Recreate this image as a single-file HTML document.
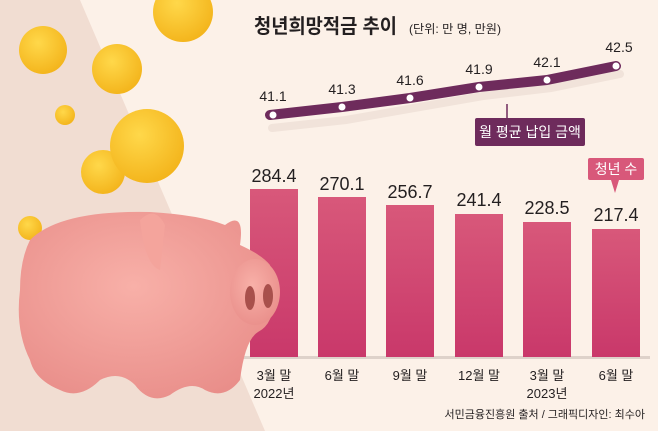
<!DOCTYPE html>
<html><head><meta charset="utf-8"><style>
body{margin:0;width:658px;height:431px;overflow:hidden;background:#fcf1e8;font-family:"Liberation Sans","Noto Sans CJK KR",sans-serif}
</style></head><body>
<svg width="658" height="431" viewBox="0 0 658 431" xmlns="http://www.w3.org/2000/svg" style="position:absolute;left:0;top:0">
<defs>
<linearGradient id="bar" x1="0" y1="0" x2="0" y2="1"><stop offset="0" stop-color="#d8587a"/><stop offset="1" stop-color="#c9386a"/></linearGradient>
<radialGradient id="pig" cx="0.45" cy="0.4" r="0.7"><stop offset="0" stop-color="#f8b0a8"/><stop offset="1" stop-color="#e88c88"/></radialGradient>
<radialGradient id="coin" cx="0.4" cy="0.35" r="0.7"><stop offset="0" stop-color="#ffd84a"/><stop offset="1" stop-color="#f3b31a"/></radialGradient>
</defs>
<rect width="658" height="431" fill="#fcf1e8"/>
<polygon points="0,0 80,0 265,431 0,431" fill="#f1ddd2"/>
<g fill="url(#coin)">
<circle cx="183" cy="12" r="30"/><circle cx="43" cy="50" r="24"/><circle cx="117" cy="69" r="25"/>
<circle cx="65" cy="115" r="10"/><circle cx="103" cy="172" r="22"/><circle cx="147" cy="146" r="37"/>
<circle cx="30" cy="228" r="12"/>
</g>
<text x="254" y="33" font-size="20" font-weight="bold" fill="#231f20" textLength="143" lengthAdjust="spacingAndGlyphs">청년희망적금 추이</text>
<text x="409" y="33" font-size="12" fill="#231f20" textLength="92" lengthAdjust="spacingAndGlyphs">(단위: 만 명, 만원)</text>
<path d="M272,128 L346,120 L414,108 L483,96 L551,88 L620,74" stroke="#e6d6cc" stroke-width="8" fill="none" stroke-linecap="round" opacity="0.5"/>
<path d="M270,115 L342,107 L410,98 L479,87 L547,80 L616,66" stroke="#6e2b5c" stroke-width="10" fill="none" stroke-linecap="round" stroke-linejoin="round"/>
<g fill="#fff"><circle cx="273" cy="115" r="3.5"/><circle cx="342" cy="107" r="3.5"/><circle cx="410" cy="98" r="3.5"/><circle cx="479" cy="87" r="3.5"/><circle cx="547" cy="80" r="3.5"/><circle cx="616" cy="66" r="3.5"/></g>
<g font-size="14" fill="#231f20" text-anchor="middle">
<text x="273" y="101">41.1</text><text x="342" y="94">41.3</text><text x="410" y="85">41.6</text><text x="479" y="74">41.9</text><text x="547" y="67">42.1</text><text x="619" y="52">42.5</text>
</g>
<line x1="507" y1="104" x2="507" y2="120" stroke="#6e2b5c" stroke-width="1.5"/>
<rect x="475" y="118" width="110" height="28" rx="2" fill="#6e2b5c"/>
<text x="530" y="137" font-size="14" fill="#fff" text-anchor="middle">월 평균 납입 금액</text>
<rect x="240" y="356" width="410" height="3" fill="#6a5a55" opacity="0.2"/>
<g fill="url(#bar)">
<rect x="250" y="189" width="48" height="168"/><rect x="318" y="197" width="48" height="160"/><rect x="386" y="205" width="48" height="152"/>
<rect x="455" y="214" width="48" height="143"/><rect x="523" y="222" width="48" height="135"/><rect x="592" y="229" width="48" height="128"/>
</g>
<g font-size="18" fill="#231f20" text-anchor="middle">
<text x="274" y="182">284.4</text><text x="342" y="190">270.1</text><text x="410" y="198">256.7</text><text x="479" y="206">241.4</text><text x="547" y="214">228.5</text><text x="616" y="221">217.4</text>
</g>
<rect x="588" y="158" width="56" height="22" rx="2" fill="#d8587a"/>
<polygon points="611,180 619,180 615,193" fill="#d8587a"/>
<text x="616" y="174" font-size="14" fill="#fff" text-anchor="middle">청년 수</text>
<g font-size="13" fill="#231f20" text-anchor="middle">
<text x="274" y="380">3월 말</text><text x="342" y="380">6월 말</text><text x="410" y="380">9월 말</text><text x="479" y="380">12월 말</text><text x="547" y="380">3월 말</text><text x="616" y="380">6월 말</text>
<text x="274" y="398">2022년</text><text x="547" y="398">2023년</text>
</g>
<text x="645" y="418" font-size="11" fill="#231f20" text-anchor="end">서민금융진흥원 출처 / 그래픽디자인: 최수아</text>
<!-- pig in front -->
<g fill="url(#pig)">
<path d="M30,240 Q60,210 150,212 Q200,215 225,225 Q245,210 240,245 Q262,255 270,265 Q282,320 258,332 Q245,340 240,380 Q225,400 205,390 Q190,380 170,395 Q150,405 135,385 Q120,370 100,380 Q80,400 60,390 Q35,380 30,360 Q15,330 20,290 Q20,260 30,240Z"/>
<ellipse cx="255" cy="292" rx="25" ry="33"/>
<path d="M140,220 Q155,205 165,225 L160,270 Q145,265 140,220Z" fill="#f4a49c"/>
</g>
<ellipse cx="250" cy="298" rx="5" ry="12" fill="#a8504c"/><ellipse cx="268" cy="296" rx="5" ry="12" fill="#a8504c"/>
</svg>
</body></html>
